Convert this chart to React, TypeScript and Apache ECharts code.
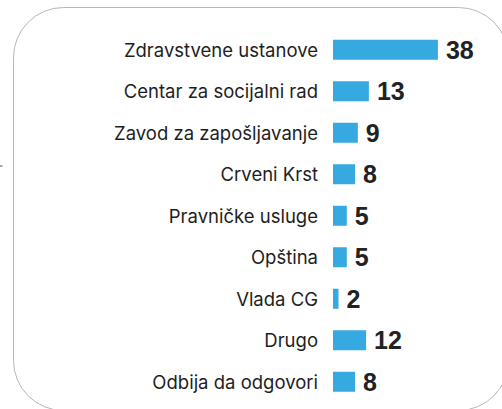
import React, { useEffect, useRef } from "react";
import * as echarts from "echarts";

const categories = [
  "Zdravstvene ustanove",
  "Centar za socijalni rad",
  "Zavod za zapošljavanje",
  "Crveni Krst",
  "Pravničke usluge",
  "Opština",
  "Vlada CG",
  "Drugo",
  "Odbija da odgovori",
];
const values = [38, 13, 9, 8, 5, 5, 2, 12, 8];

export default function App() {
  const ref = useRef<HTMLDivElement>(null);
  useEffect(() => {
    document.body.style.margin = "0";
    const chart = echarts.init(ref.current!, null, { renderer: "svg" });
    chart.setOption({
      animation: false,
      backgroundColor: "#ffffff",
      graphic: [
        {
          type: "rect",
          shape: { x: 13.5, y: 7.5, width: 495, height: 403, r: 50 },
          style: { fill: "none", stroke: "#b8b8b8", lineWidth: 1 },
          z: 0,
        },
        {
          type: "line",
          shape: { x1: 0, y1: 166, x2: 2.5, y2: 166 },
          style: { stroke: "#555", lineWidth: 1 },
        },
      ],
      grid: { left: 333, top: 29, height: 373.5, width: 138 },
      xAxis: {
        type: "value",
        min: 0,
        max: 50,
        show: false,
      },
      yAxis: {
        type: "category",
        data: categories,
        inverse: true,
        axisLine: { show: false },
        axisTick: { show: false },
        axisLabel: {
          color: "#1e1e1e",
          fontSize: 18.5,
          fontFamily: "Inter",
          margin: 15,
        },
      },
      series: [
        {
          type: "bar",
          data: values,
          barWidth: 20,
          itemStyle: { color: "#36a9e1" },
          label: {
            show: true,
            position: "right",
            distance: 8,
            color: "#222",
            fontSize: 25,
            fontWeight: "bold",
            fontFamily: "Liberation Sans",
          },
        },
      ],
    });
    return () => chart.dispose();
  }, []);
  return (
    <div
      ref={ref}
      style={{ position: "absolute", left: 0, top: 0, width: 502, height: 409 }}
    />
  );
}
